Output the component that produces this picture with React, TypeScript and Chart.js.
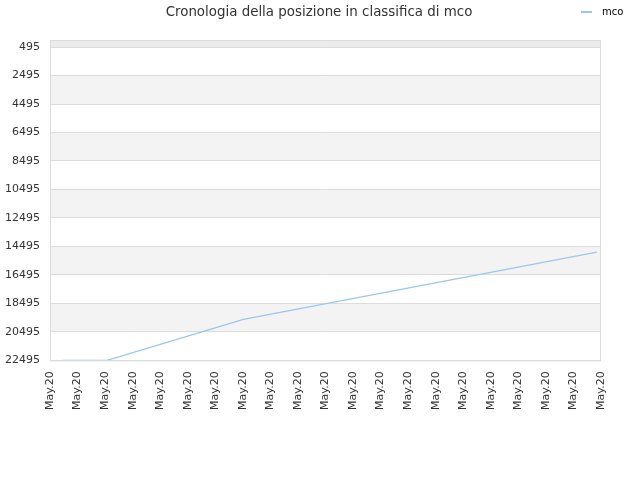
import { useEffect, useRef } from "react";
import { Chart, registerables } from "chart.js";

Chart.register(...registerables);

const TITLE = "Cronologia della posizione in classifica di mco";
const SERIES_NAME = "mco";
const TICK_LABELS = [
  "May.20","May.20","May.20","May.20","May.20","May.20","May.20",
  "May.20","May.20","May.20","May.20","May.20","May.20","May.20",
  "May.20","May.20","May.20","May.20","May.20","May.20","May.20",
];
const Y_TICKS = [495, 2495, 4495, 6495, 8495, 10495, 12495, 14495, 16495, 18495, 20495, 22495];
const POS_X = [0.44, 2.07, 7.02, 13.7, 19.85];
const POS_Y = [22495, 22495, 19620, 17160, 14900];

const LINE_COLOR = "#9ac6f3";
const FONT = "'DejaVu Sans', sans-serif";

// bande alternate + bordo dell'area
const bandsPlugin = {
  id: "bands",
  beforeDraw(chart: any) {
    const { ctx, chartArea: a, scales } = chart;
    const y = scales.y;
    ctx.save();
    ctx.fillStyle = "#ececec";
    ctx.fillRect(a.left, a.top, a.right - a.left, y.getPixelForValue(Y_TICKS[0]) - a.top);
    ctx.fillStyle = "#f3f3f3";
    for (let i = 1; i < Y_TICKS.length - 1; i += 2) {
      const p1 = y.getPixelForValue(Y_TICKS[i]);
      const p2 = y.getPixelForValue(Y_TICKS[i + 1]);
      ctx.fillRect(a.left, p1, a.right - a.left, p2 - p1);
    }
    ctx.restore();
  },
  afterDatasetsDraw(chart: any) {
    const { ctx, chartArea: a } = chart;
    ctx.save();
    ctx.strokeStyle = "#dcdcdc";
    ctx.lineWidth = 1;
    ctx.strokeRect(a.left + 0.5, a.top + 0.5, a.right - a.left - 1, a.bottom - a.top);
    ctx.restore();
  },
};

export default function App() {
  const canvasRef = useRef<HTMLCanvasElement | null>(null);

  useEffect(() => {
    if (!canvasRef.current) return;
    const chart = new Chart(canvasRef.current, {
      type: "line",
      data: {
        labels: TICK_LABELS,
        datasets: [{
          label: SERIES_NAME,
          data: POS_X.map((x, i) => ({ x, y: POS_Y[i] })),
          xAxisID: "xPos",
          borderColor: LINE_COLOR,
          backgroundColor: LINE_COLOR,
          borderWidth: 1.3,
          pointRadius: 0,
          tension: 0,
        }],
      },
      options: {
        animation: false,
        responsive: false,
        layout: { padding: { left: -5, right: 39, top: 40, bottom: 67 } },
        plugins: {
          legend: { display: false },
          tooltip: { enabled: false },
          title: { display: false },
        },
        scales: {
          x: {
            type: "category",
            offset: false,
            ticks: {
              autoSkip: false,
              maxRotation: 90,
              minRotation: 90,
              color: "#333",
              font: { family: FONT, size: 11 },
              padding: 3,
            },
            grid: { display: false },
            border: { display: false },
          },
          xPos: {
            type: "linear",
            display: false,
            min: 0,
            max: TICK_LABELS.length - 1,
          },
          y: {
            min: 0,
            max: 22495,
            reverse: true,
            afterBuildTicks: (s: any) => { s.ticks = Y_TICKS.map(v => ({ value: v })); },
            ticks: {
              color: "#333",
              font: { family: FONT, size: 11 },
              padding: 10,
              callback: (v: any) => String(v),
            },
            grid: { color: "#dcdcdc", drawTicks: false },
            border: { display: false },
          },
        },
      },
      plugins: [bandsPlugin],
    });
    return () => chart.destroy();
  }, []);

  return (
    <div style={{ position: "fixed", left: 0, top: 0, width: 640, height: 480, background: "#fff" }}>
      <canvas ref={canvasRef} width={640} height={480} style={{ width: 640, height: 480 }} />
      <div style={{ position: "absolute", left: 0, top: 4, width: 638, textAlign: "center", fontFamily: FONT, fontSize: 13.4, lineHeight: "16px", color: "#333" }}>
        {TITLE}
      </div>
      <div style={{ position: "absolute", left: 581, top: 5, display: "flex", alignItems: "center", fontFamily: FONT, fontSize: 10, lineHeight: "13px", color: "#000" }}>
        <span style={{ display: "inline-block", width: 11, height: 2, background: LINE_COLOR, marginRight: 10 }} />
        <span>{SERIES_NAME}</span>
      </div>
    </div>
  );
}
